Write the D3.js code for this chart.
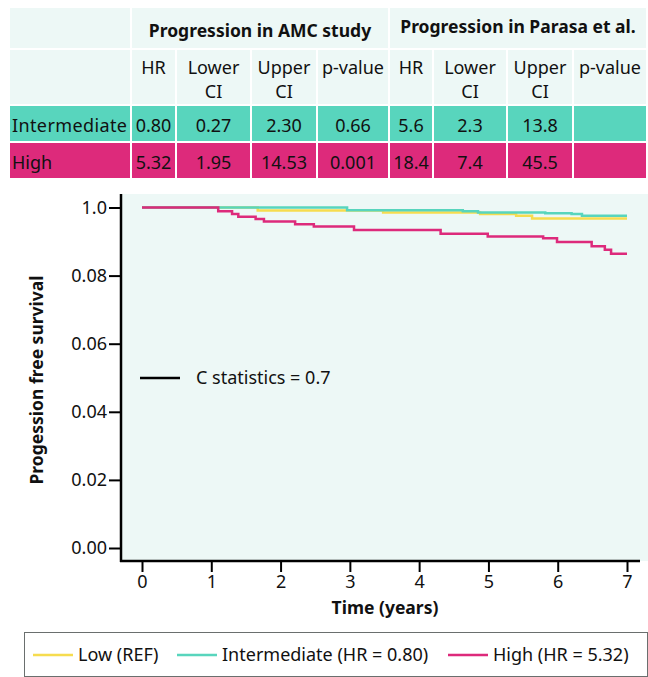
<!DOCTYPE html>
<html>
<head>
<meta charset="utf-8">
<script src="https://cdn.jsdelivr.net/npm/d3@7"></script>
<style>
  body { margin: 0; background: #fff; }
  svg text { font-family: "Noto Sans", sans-serif; fill: #111; }
</style>
</head>
<body>
<div id="wrapper"></div>
<script>
// table data
const rowLabels = ["Intermediate", "High"]
const groupTitles = ["Progression in AMC study", "Progression in Parasa et al."]
const colHeaders = [["HR"], ["Lower", "CI"], ["Upper", "CI"], ["p-value"]]
const amcHR = ["0.80", "5.32"]
const amcLower = ["0.27", "1.95"]
const amcUpper = ["2.30", "14.53"]
const amcP = ["0.66", "0.001"]
const parasaHR = ["5.6", "18.4"]
const parasaLower = ["2.3", "7.4"]
const parasaUpper = ["13.8", "45.5"]
const parasaP = ["", ""]

// survival curves (time in years, survival)
const lowTimes = [0, 1.67, 3.48, 4.88, 5.40, 5.63, 7]
const lowSurv = [1, 0.991, 0.985, 0.981, 0.976, 0.968, 0.968]
const intTimes = [0, 2.96, 4.63, 4.85, 5.82, 6.20, 6.35, 7]
const intSurv = [1, 0.992, 0.989, 0.985, 0.983, 0.981, 0.976, 0.976]
const highTimes = [0, 1.10, 1.30, 1.39, 1.64, 1.76, 2.21, 2.48, 3.06, 4.31, 4.99, 5.79, 5.99, 6.49, 6.68, 6.77, 7]
const highSurv = [1, 0.989, 0.981, 0.973, 0.966, 0.959, 0.951, 0.944, 0.934, 0.923, 0.915, 0.910, 0.899, 0.886, 0.876, 0.864, 0.864]

const xTicks = [0, 1, 2, 3, 4, 5, 6, 7]
const yTicks = [0, 0.2, 0.4, 0.6, 0.8, 1]
const yTickLabels = ["0.00", "0.02", "0.04", "0.06", "0.08", "1.0"]

const seriesNames = ["Low (REF)", "Intermediate (HR = 0.80)", "High (HR = 5.32)"]

const colors = {
  low: "#f6dc4f",
  int: "#58d5bd",
  high: "#dd2a7b",
  pale: "#edf8f6",
}

const fs = 18

const svg = d3.select("#wrapper").append("svg")
  .attr("width", 648)
  .attr("height", 677)

// ---- table ----
const colEdges = [10, 132, 177, 252, 318, 390, 434, 508, 574, 648]
const rowEdges = [8, 50, 106, 143, 180]
const gap = 2
const table = svg.append("g")

const cellX = i => colEdges[i]
const cellW = i => colEdges[i + 1] - colEdges[i] - gap
const cellY = r => rowEdges[r]
const cellH = r => rowEdges[r + 1] - rowEdges[r] - gap

// header row 1
table.append("rect").attr("x", cellX(0)).attr("y", cellY(0)).attr("width", cellW(0)).attr("height", cellH(0)).attr("fill", colors.pale)
;[[1, 5], [5, 9]].forEach(([a, b], gi) => {
  table.append("rect")
    .attr("x", cellX(a)).attr("y", cellY(0))
    .attr("width", colEdges[b] - colEdges[a] - gap).attr("height", cellH(0))
    .attr("fill", colors.pale)
  table.append("text")
    .attr("x", (colEdges[a] + colEdges[b] - gap) / 2)
    .attr("y", gi == 0 ? 37 : 33)
    .attr("text-anchor", "middle")
    .attr("font-weight", "bold")
    .attr("font-size", 17.5)
    .text(groupTitles[gi])
})

// header row 2
for (let i = 0; i < 9; i++) {
  table.append("rect").attr("x", cellX(i)).attr("y", cellY(1)).attr("width", cellW(i)).attr("height", cellH(1)).attr("fill", colors.pale)
  if (i == 0) continue
  const lines = colHeaders[(i - 1) % 4]
  lines.forEach((l, li) => {
    table.append("text")
      .attr("x", cellX(i) + cellW(i) / 2)
      .attr("y", 74 + li * 24)
      .attr("text-anchor", "middle")
      .attr("font-size", fs)
      .text(l)
  })
}

// data rows
const cols = [amcHR, amcLower, amcUpper, amcP, parasaHR, parasaLower, parasaUpper, parasaP]
rowLabels.forEach((lab, r) => {
  const fill = r == 0 ? colors.int : colors.high
  const ty = r == 0 ? 132 : 169
  for (let i = 0; i < 9; i++) {
    table.append("rect").attr("x", cellX(i)).attr("y", cellY(r + 2)).attr("width", cellW(i)).attr("height", cellH(r + 2)).attr("fill", fill)
  }
  table.append("text").attr("x", 12).attr("y", ty).attr("font-size", fs).attr("textLength", r == 0 ? 115 : null).text(lab)
  cols.forEach((c, i) => {
    table.append("text")
      .attr("x", cellX(i + 1) + cellW(i + 1) / 2)
      .attr("y", ty)
      .attr("text-anchor", "middle")
      .attr("font-size", fs)
      .text(c[r])
  })
})

// ---- chart ----
const plot = { left: 121, right: 648, top: 194, bottom: 561 }
const x = d3.scaleLinear().domain([0, 7]).range([142, 627])
const y = d3.scaleLinear().domain([0, 1]).range([548, 207.5])

svg.append("rect")
  .attr("x", plot.left).attr("y", plot.top)
  .attr("width", plot.right - plot.left).attr("height", plot.bottom - plot.top)
  .attr("fill", colors.pale)

const line = d3.line()
  .x(d => x(d[0]))
  .y(d => y(d[1]))
  .curve(d3.curveStepAfter)

const series = [
  [lowTimes, lowSurv, colors.low],
  [intTimes, intSurv, colors.int],
  [highTimes, highSurv, colors.high],
]
series.forEach(([t, s, c]) => {
  svg.append("path")
    .datum(t.map((d, i) => [d, s[i]]))
    .attr("d", line)
    .attr("fill", "none")
    .attr("stroke", c)
    .attr("stroke-width", 2.5)
})

// axes
const yAxis = svg.append("g")
  .attr("transform", `translate(${plot.left},0)`)
  .call(d3.axisLeft(y).tickValues(yTicks).tickSize(12).tickPadding(2).tickFormat((d, i) => yTickLabels[i]))
yAxis.select(".domain").remove()
yAxis.selectAll(".tick line").attr("stroke", "#000").attr("stroke-width", 2)
yAxis.selectAll(".tick text").attr("font-size", fs).attr("font-family", "Noto Sans").attr("fill", "#111")

const xAxis = svg.append("g")
  .attr("transform", `translate(0,${plot.bottom})`)
  .call(d3.axisBottom(x).tickValues(xTicks).tickSize(11).tickPadding(3).tickFormat(d3.format("d")))
xAxis.select(".domain").remove()
xAxis.selectAll(".tick line").attr("stroke", "#000").attr("stroke-width", 2)
xAxis.selectAll(".tick text").attr("font-size", fs).attr("font-family", "Noto Sans").attr("fill", "#111")

svg.append("line")
  .attr("x1", plot.left).attr("x2", plot.left)
  .attr("y1", plot.top).attr("y2", plot.bottom + 1)
  .attr("stroke", "#000").attr("stroke-width", 2.5)
svg.append("line")
  .attr("x1", plot.left - 1).attr("x2", 640)
  .attr("y1", plot.bottom).attr("y2", plot.bottom)
  .attr("stroke", "#000").attr("stroke-width", 2.5)

svg.append("text")
  .attr("x", 385).attr("y", 614)
  .attr("text-anchor", "middle")
  .attr("font-weight", "bold")
  .attr("font-size", 17.5)
  .text("Time (years)")

svg.append("text")
  .attr("transform", "translate(43,380) rotate(-90)")
  .attr("text-anchor", "middle")
  .attr("font-weight", "bold")
  .attr("font-size", 17.5)
  .text("Progession free survival")

// C statistics note
svg.append("line")
  .attr("x1", 140).attr("x2", 180).attr("y1", 378).attr("y2", 378)
  .attr("stroke", "#000").attr("stroke-width", 2.5)
svg.append("text")
  .attr("x", 196).attr("y", 384)
  .attr("font-size", fs)
  .text("C statistics = 0.7")

// ---- legend ----
const legend = svg.append("g")
legend.append("rect")
  .attr("x", 24.5).attr("y", 632.5)
  .attr("width", 623).attr("height", 44)
  .attr("fill", "#fff")
  .attr("stroke", "#6a6f6e")
  .attr("stroke-width", 1)

const legendX = [33, 177, 448]
const legendColors = [colors.low, colors.int, colors.high]
seriesNames.forEach((name, i) => {
  legend.append("line")
    .attr("x1", legendX[i]).attr("x2", legendX[i] + 40)
    .attr("y1", 655).attr("y2", 655)
    .attr("stroke", legendColors[i]).attr("stroke-width", 2.5)
  legend.append("text")
    .attr("x", legendX[i] + 45).attr("y", 661)
    .attr("font-size", fs)
    .text(name)
})
</script>
</body>
</html>
